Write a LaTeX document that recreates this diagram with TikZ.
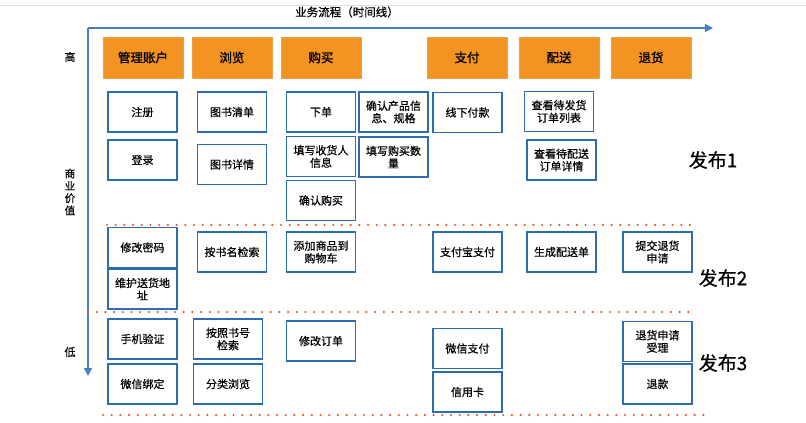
\documentclass[tikz,border=0pt]{standalone}
\usepackage{fontspec}
\setmainfont{Noto Sans CJK SC}
\newfontfamily\cjk{Noto Sans CJK SC}
\newfontfamily\cjkm{Noto Sans CJK SC}[FakeBold=0.6]
\newfontfamily\cjkh{Noto Sans CJK SC}[FakeBold=1.2]
\usetikzlibrary{arrows.meta}
\definecolor{cardblue}{HTML}{2E6DB4}
\definecolor{axisblue}{HTML}{4A7EC2}
\definecolor{hdrorange}{HTML}{F39322}
\definecolor{hdrline}{HTML}{F0A04A}
\definecolor{dotred}{HTML}{E85A1C}
\begin{document}
\begin{tikzpicture}[x=1pt,y=-1pt,
  card/.style={draw=cardblue,line width=1.8pt,fill=white,minimum width=69pt,minimum height=40pt,inner sep=1pt,align=center,font=\cjkm\fontsize{11}{12.5}\selectfont,text width=64pt},
  hdr/.style={draw=hdrline,line width=1pt,fill=hdrorange,minimum width=80pt,minimum height=41pt,inner sep=0pt,font=\cjkh\fontsize{12.5}{14}\selectfont},
  axis/.style={draw=axisblue,line width=1.6pt,-{Triangle[length=8pt,width=8pt]}},
  sep/.style={draw=dotred,line width=2.4pt,line cap=round,dash pattern=on 0pt off 8.7pt},
  lbl/.style={font=\cjkm\fontsize{11}{12}\selectfont,inner sep=0pt},
  rel/.style={font=\cjkm\fontsize{19}{21}\selectfont,inner sep=0pt}]
\useasboundingbox (0,0) rectangle (806,423);
\fill[white] (0,0) rectangle (806,423);
\draw[black!13,line width=0.8pt] (0,5) -- (806,5);
% axes
\coordinate (o) at (88,28);
\coordinate (xend) at (713,28);
\coordinate (yend) at (88,376);
\draw[axis] (o) -- (xend);
\draw[axis] (o) -- (yend);
\node[lbl,font=\cjkm\fontsize{11.5}{13}\selectfont] (title) at (347,12) {业务流程（时间线）};
\node[lbl] (hi) at (70,57) {高};
\node[lbl,align=center,font=\cjkm\fontsize{10.5}{12.3}\selectfont] (val) at (70,192) {商\\业\\价\\值};
\node[lbl] (lo) at (70,352) {低};
% separators
\coordinate (s1a) at (107,225); \coordinate (s1b) at (690,225);
\coordinate (s2a) at (88,312); \coordinate (s2b) at (690,312);
\coordinate (s3a) at (103,415); \coordinate (s3b) at (705,415);
\draw[sep] (s1a) -- (s1b);
\draw[sep] (s2a) -- (s2b);
\draw[sep] (s3a) -- (s3b);
% headers
\node[hdr] (h1) at (143,57.5) {管理账户};
\node[hdr] (h2) at (232,57.5) {浏览};
\node[hdr] (h3) at (321,57.5) {购买};
\node[hdr] (h4) at (467,57.5) {支付};
\node[hdr] (h5) at (559,57.5) {配送};
\node[hdr] (h6) at (651,57.5) {退货};
% release 1
\node[card] (c1) at (142.5,112) {注册};
\node[card] (c2) at (142.5,160) {登录};
\node[card] (c3) at (232,112) {图书清单};
\node[card] (c4) at (232,164.5) {图书详情};
\node[card] (c5) at (321,112) {下单};
\node[card] (c6) at (321,156.5) {填写收货人\\信息};
\node[card] (c7) at (321,200.5) {确认购买};
\node[card] (c8) at (393.5,112) {确认产品信\\息、规格};
\node[card] (c9) at (393.5,157) {填写购买数\\量};
\node[card] (c10) at (467.5,112.5) {线下付款};
\node[card] (c11) at (559,111.5) {查看待发货\\订单列表};
\node[card] (c12) at (561.5,160) {查看待配送\\订单详情};
\node[rel] (r1) at (713,160) {发布1};
% release 2
\node[card] (d1) at (142.5,247.5) {修改密码};
\node[card] (d2) at (142.5,289) {维护送货地\\址};
\node[card] (d3) at (232,252) {按书名检索};
\node[card] (d4) at (321,252) {添加商品到\\购物车};
\node[card] (d5) at (467.5,252) {支付宝支付};
\node[card] (d6) at (561.5,252) {生成配送单};
\node[card] (d7) at (657.5,252) {提交退货\\申请};
\node[rel] (r2) at (723,278) {发布2};
% release 3
\node[card] (e1) at (142.5,339) {手机验证};
\node[card] (e2) at (142.5,384) {微信绑定};
\node[card] (e3) at (228,339) {按照书号\\检索};
\node[card] (e4) at (228,384) {分类浏览};
\node[card] (e5) at (321,341) {修改订单};
\node[card] (e6) at (467.5,348.5) {微信支付};
\node[card] (e7) at (467.5,392) {信用卡};
\node[card] (e8) at (657.5,341.5) {退货申请\\受理};
\node[card] (e9) at (657.5,384) {退款};
\node[rel] (r3) at (723,363) {发布3};
\end{tikzpicture}
\end{document}
